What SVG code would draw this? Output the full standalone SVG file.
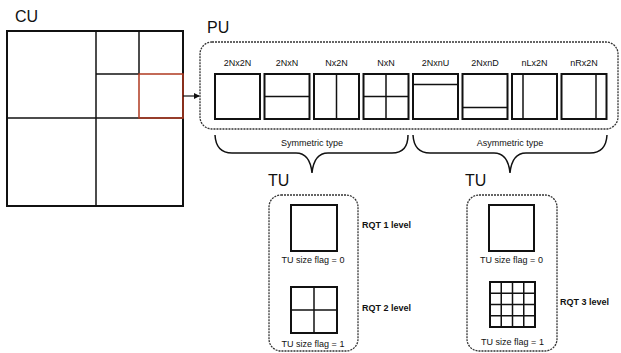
<svg xmlns="http://www.w3.org/2000/svg" width="621" height="353" viewBox="0 0 621 353">
<defs>
<style>
.t{font-family:"Liberation Sans",Arial,sans-serif;fill:#111}
.big{font-size:16px}
.sm{font-size:9px}
.b{font-weight:bold}
.box{fill:#fff;stroke:#111;stroke-width:2}
.ln{stroke:#111;stroke-width:1.5;fill:none}
.dash{fill:none;stroke:#333;stroke-width:1.3;stroke-dasharray:2 1}
.brace{fill:none;stroke:#111;stroke-width:1.5}
</style>
<marker id="ah" markerWidth="6" markerHeight="6" refX="5" refY="3" orient="auto" markerUnits="userSpaceOnUse">
<path d="M0,0 L6,3 L0,6 Z" fill="#111"/>
</marker>
</defs>
<rect width="621" height="353" fill="#fff"/>

<g id="cu">
<text class="t big" x="15" y="22">CU</text>
<rect x="7" y="31" width="176" height="175" fill="#fff" stroke="#111" stroke-width="2"/>
<line class="ln" x1="96" y1="31" x2="96" y2="206" stroke-width="2"/>
<line class="ln" x1="7" y1="118" x2="183" y2="118" stroke-width="2"/>
<line class="ln" x1="139" y1="31" x2="139" y2="74"/>
<line class="ln" x1="96" y1="74" x2="139" y2="74"/>
<rect x="139" y="74" width="44" height="44" fill="none" stroke="#b03a20" stroke-width="1.5"/>
</g>

<g id="connectors">
<line x1="183" y1="96" x2="199" y2="96" stroke="#111" stroke-width="1.2" marker-end="url(#ah)"/>
<path class="brace" d="M215,135 Q216,153 232,153 L296,153 Q310,153 312,173 Q314,153 328,153 L392,153 Q408,153 408,135"/>
<path class="brace" d="M413,135 Q414,153 430,153 L494,153 Q508,153 510,173 Q512,153 526,153 L590,153 Q606,153 607,135"/>
</g>

<g id="pu">
<text class="t big" x="207" y="33">PU</text>
<rect class="dash" x="200" y="42" width="418" height="87" rx="12"/>
<g id="pu-2Nx2N">
<text class="t sm" x="237.5" y="66" text-anchor="middle">2Nx2N</text>
<rect class="box" x="215" y="74" width="45" height="45"/>
</g>
<g id="pu-2NxN">
<text class="t sm" x="287" y="66" text-anchor="middle">2NxN</text>
<rect class="box" x="264.5" y="74" width="45" height="45"/>
<line class="ln" x1="264.5" y1="96.5" x2="309.5" y2="96.5"/>
</g>
<g id="pu-Nx2N">
<text class="t sm" x="336.5" y="66" text-anchor="middle">Nx2N</text>
<rect class="box" x="314" y="74" width="45" height="45"/>
<line class="ln" x1="336.5" y1="74" x2="336.5" y2="119"/>
</g>
<g id="pu-NxN">
<text class="t sm" x="386" y="66" text-anchor="middle">NxN</text>
<rect class="box" x="363.5" y="74" width="45" height="45"/>
<line class="ln" x1="386" y1="74" x2="386" y2="119"/>
<line class="ln" x1="363.5" y1="96.5" x2="408.5" y2="96.5"/>
</g>
<g id="pu-2NxnU">
<text class="t sm" x="435.5" y="66" text-anchor="middle">2NxnU</text>
<rect class="box" x="413" y="74" width="45" height="45"/>
<line class="ln" x1="413" y1="84.5" x2="458" y2="84.5"/>
</g>
<g id="pu-2NxnD">
<text class="t sm" x="485" y="66" text-anchor="middle">2NxnD</text>
<rect class="box" x="462.5" y="74" width="45" height="45"/>
<line class="ln" x1="462.5" y1="107.5" x2="507.5" y2="107.5"/>
</g>
<g id="pu-nLx2N">
<text class="t sm" x="534.5" y="66" text-anchor="middle">nLx2N</text>
<rect class="box" x="512" y="74" width="45" height="45"/>
<line class="ln" x1="523" y1="74" x2="523" y2="119"/>
</g>
<g id="pu-nRx2N">
<text class="t sm" x="584" y="66" text-anchor="middle">nRx2N</text>
<rect class="box" x="561.5" y="74" width="45" height="45"/>
<line class="ln" x1="596" y1="74" x2="596" y2="119"/>
</g>
<text class="t sm" x="312" y="146" text-anchor="middle">Symmetric type</text>
<text class="t sm" x="510" y="146" text-anchor="middle">Asymmetric type</text>
</g>

<g id="tu-left">
<text class="t big" x="268" y="186">TU</text>
<rect class="dash" x="269" y="195" width="89" height="156" rx="12"/>
<rect class="box" x="291" y="205" width="46" height="46"/>
<text class="t sm" x="313" y="263" text-anchor="middle">TU size flag = 0</text>
<rect class="box" x="291" y="287" width="46" height="46"/>
<line class="ln" x1="314" y1="287" x2="314" y2="333"/>
<line class="ln" x1="291" y1="310" x2="337" y2="310"/>
<text class="t sm" x="313" y="347" text-anchor="middle">TU size flag = 1</text>
<text class="t sm b" x="362" y="228">RQT 1 level</text>
<text class="t sm b" x="362" y="311">RQT 2 level</text>
</g>

<g id="tu-right">
<text class="t big" x="465" y="186">TU</text>
<rect class="dash" x="467" y="195" width="90" height="156" rx="12"/>
<rect class="box" x="489" y="205" width="45" height="46"/>
<text class="t sm" x="511.5" y="263" text-anchor="middle">TU size flag = 0</text>
<rect class="box" x="490" y="282" width="45" height="45"/>
<path class="ln" d="M501.25,282 V327 M512.5,282 V327 M523.75,282 V327 M490,293.25 H535 M490,304.5 H535 M490,315.75 H535"/>
<text class="t sm" x="512.5" y="345" text-anchor="middle">TU size flag = 1</text>
<text class="t sm b" x="560" y="305">RQT 3 level</text>
</g>
</svg>
